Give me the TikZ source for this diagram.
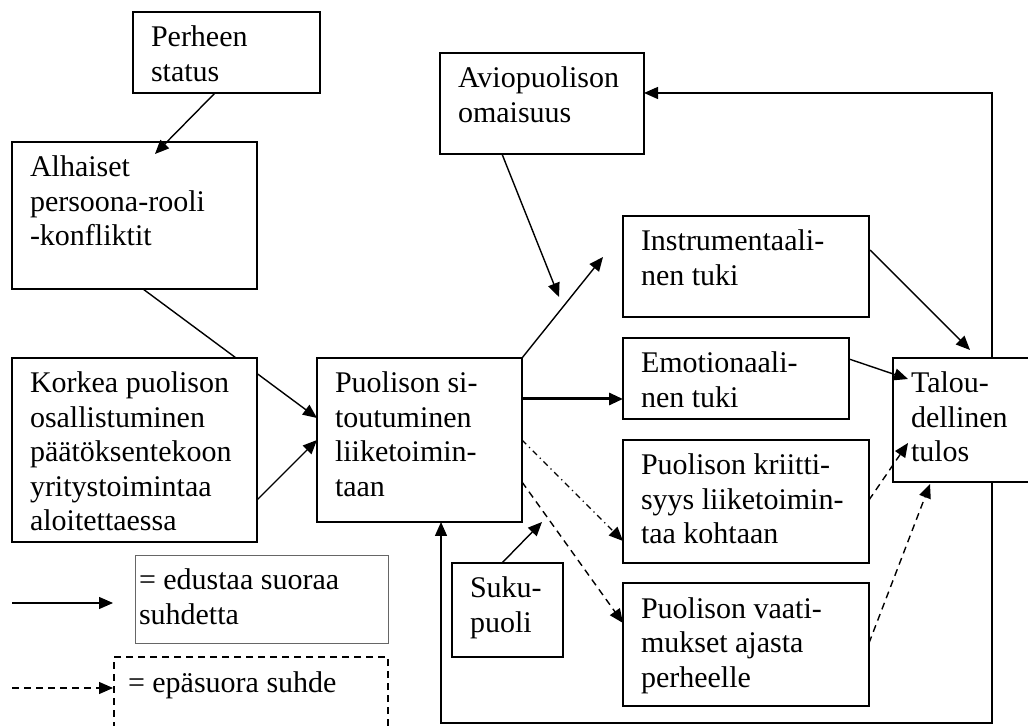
\documentclass[tikz,border=0pt]{standalone}
\usepackage{fontspec}
\setmainfont{Liberation Serif}
\usetikzlibrary{arrows.meta,calc,backgrounds}

% Box contents: width and height in drawing units (1 unit = 0.5pt),
% text starts top left with the first baseline 17.5pt below the top edge.
\newcommand\bx[4][9pt]{%
  \parbox[c][\dimexpr#3pt/2\relax][t]{\dimexpr#2pt/2\relax}{%
    \fontsize{15}{17.25}\selectfont\raggedright\leftskip=#1\relax
    \rule{0pt}{17.5pt}#4}}

\tikzset{
  box/.style={draw, line width=0.75pt, fill=white, inner sep=0pt,
    outer sep=0pt, anchor=north west},
  link/.style={line width=0.7pt, -{Triangle[length=7pt,width=6pt]}},
  thicklink/.style={link, line width=1.5pt},
  dashstyle/.style={dash pattern=on 3.5pt off 2.5pt},
  dashdotstyle/.style={dash pattern=on 3pt off 2pt on 0.6pt off 2pt},
}

\begin{document}
\begin{tikzpicture}[x=0.5pt, y=-0.5pt]
\useasboundingbox (0,0) rectangle (1028,726);

% boxes
\node[box] (per) at (133,12)  {\bx{187}{81}{Perheen\\status}};
\node[box] (alh) at (12,142)  {\bx{245}{147}{Alhaiset\\persoona-rooli\\-konfliktit}};
\node[box] (kor) at (12,358)  {\bx{245}{184}{Korkea puolison\\osallistuminen\\päätöksentekoon\\yritystoimintaa\\aloitettaessa}};
\node[box] (puo) at (317,358) {\bx{205}{164}{Puolison si-\\toutuminen\\liiketoimin-\\taan}};
\node[box] (avi) at (440,53)  {\bx{204}{101}{Aviopuolison\\omaisuus}};
\node[box] (ins) at (623,216) {\bx{246}{101}{Instrumentaali-\\nen tuki}};
\node[box] (emo) at (623,338) {\bx{226}{81}{Emotionaali-\\nen tuki}};
\node[box] (kri) at (623,440) {\bx{246}{123}{Puolison kriitti-\\syys liiketoimin-\\taa kohtaan}};
\node[box] (vaa) at (623,583) {\bx{246}{123}{Puolison vaati-\\mukset ajasta\\perheelle}};
\node[box] (tal) at (893,358) {\bx{150}{124}{Talou-\\dellinen\\tulos}};
\node[box] (suk) at (452,563) {\bx{111}{94}{Suku-\\puoli}};

% legend
\node[box, draw=black!60, line width=0.45pt] (leg1) at (135,555)
  {\bx[2pt]{253}{88}{= edustaa suoraa\\suhdetta}};
\node[box, dashstyle] (leg2) at (114,657)
  {\bx[7pt]{274}{95}{= epäsuora suhde}};

% connectors
\draw[link] ($(per.south west)+(82,0)$) -- ($(alh.north west)+(143,12)$);
\begin{scope}[on background layer]
  \draw[link] ($(alh.south west)+(131,0)$) -- ($(puo.north west)+(0,60)$);
\end{scope}
\draw[link] ($(kor.north east)+(0,142)$) -- ($(puo.north west)+(0,82)$);

\coordinate (aviTip) at ($(avi.south west)+(119,143)$);
\draw[link] ($(avi.south west)+(62,0)$) -- (aviTip);
\coordinate (insTip) at ($(ins.north west)+(-20,41)$);
\draw[link] (puo.north east) -- (insTip);
\draw[thicklink] ($(puo.north east)+(0,41)$) -- ($(emo.north west)+(0,61)$);
\draw[link, dashdotstyle] ($(puo.north east)+(0,82)$) -- ($(kri.north west)+(0,101)$);
\draw[link, dashstyle] ($(puo.north east)+(0,124)$) -- ($(vaa.north west)+(0,40)$);

\coordinate (sukTip) at ($(puo.south east)+(20,0)$);
\draw[link] ($(suk.north west)+(50,0)$) -- (sukTip);

\draw[link] ($(ins.north east)+(1,34)$) -- ($(tal.north west)+(77,-8)$);
\draw[link] ($(emo.north east)+(0,21)$) -- ($(tal.north west)+(15,21)$);
\draw[link, dashstyle] ($(kri.north east)+(0,60)$) -- ($(tal.north west)+(15,85)$);
\draw[link, dashstyle] ($(vaa.north east)+(0,60)$) -- ($(tal.south west)+(37,2)$);

% feedback loops
\draw[link] ($(tal.north west)+(99,0)$) |- ($(avi.north east)+(0,40)$);
\draw[link] ($(tal.south west)+(99,0)$) -- ++(0,241) -| ($(puo.south west)+(124,0)$);

% legend arrows
\coordinate (l1s) at ($(leg1.north west)+(-123,48)$);
\coordinate (l1e) at ($(leg1.north west)+(-22,48)$);
\draw[link] (l1s) -- (l1e);
\coordinate (l2s) at ($(leg2.north west)+(-102,31)$);
\draw[link, dashstyle] (l2s) -- ($(leg2.north west)+(-1,31)$);
\end{tikzpicture}
\end{document}
